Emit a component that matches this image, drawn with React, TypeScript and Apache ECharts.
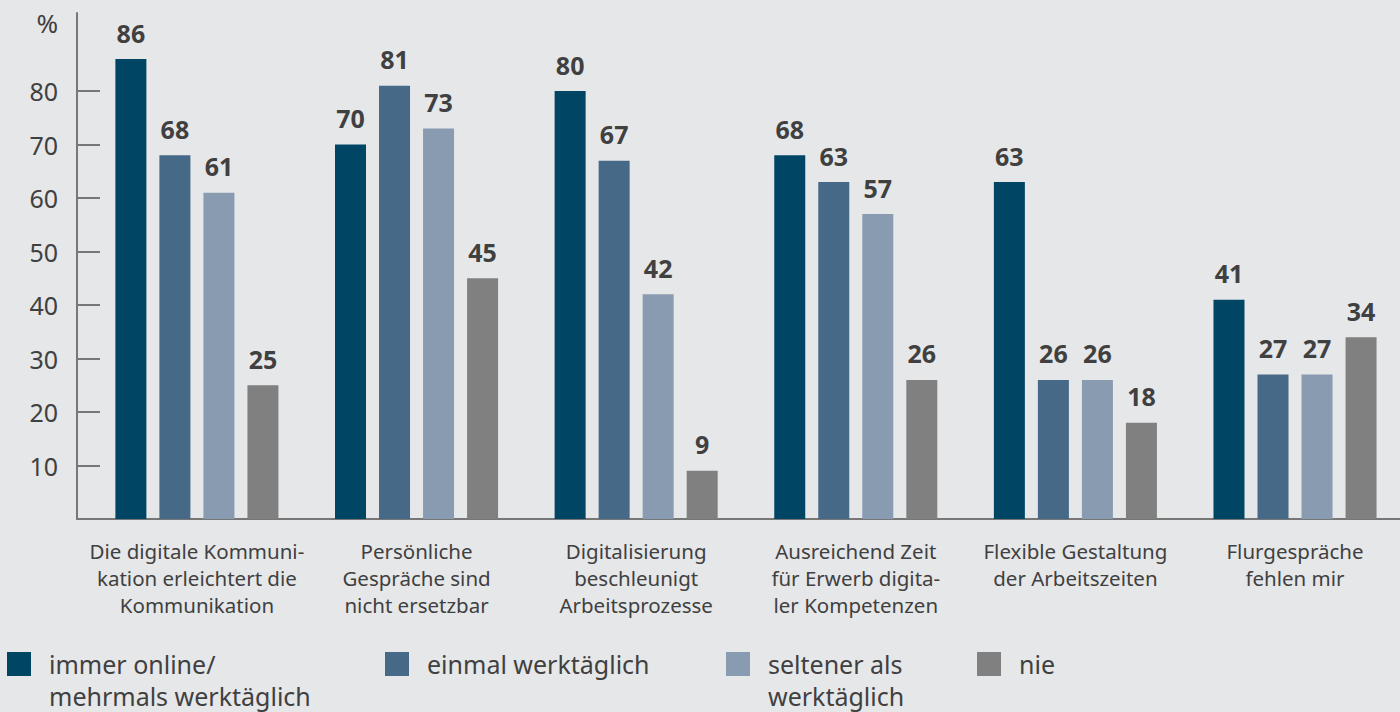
import React, { useEffect, useRef } from "react";
import * as echarts from "echarts";

const categories = [
  "Die digitale Kommuni-\nkation erleichtert die\nKommunikation",
  "Persönliche\nGespräche sind\nnicht ersetzbar",
  "Digitalisierung\nbeschleunigt\nArbeitsprozesse",
  "Ausreichend Zeit\nfür Erwerb digita-\nler Kompetenzen",
  "Flexible Gestaltung\nder Arbeitszeiten",
  "Flurgespräche\nfehlen mir",
];
const seriesNames = [
  "immer online/\nmehrmals werktäglich",
  "einmal werktäglich",
  "seltener als\nwerktäglich",
  "nie",
];
const immerOnline = [86, 70, 80, 68, 63, 41];
const einmal = [68, 81, 67, 63, 26, 27];
const seltener = [61, 73, 42, 57, 26, 27];
const nie = [25, 45, 9, 26, 18, 34];
const yTicks = [10, 20, 30, 40, 50, 60, 70, 80];

const colors = ["#004664", "#466987", "#899bb1", "#808080"];
const textColor = "#404040";
const FONT = "'Noto Sans', 'Open Sans', sans-serif";
const LH = 32;

export default function App() {
  const ref = useRef<HTMLDivElement>(null);
  useEffect(() => {
    document.body.style.margin = "0";
    const chart = echarts.init(ref.current!, null, { renderer: "svg" });
    const allData = [immerOnline, einmal, seltener, nie];
    const legendLefts = [7, 385, 726, 977];
    const option: any = {
      animation: false,
      backgroundColor: "#e6e7e9",
      textStyle: { fontFamily: FONT },
      grid: { left: 77, right: 0, top: 13, bottom: 193, containLabel: false },
      xAxis: {
        type: "value",
        min: -0.546,
        max: 5.478,
        splitLine: { show: false },
        axisTick: { show: false },
        axisLine: { show: true, onZero: false, lineStyle: { color: "#777777", width: 2 } },
        axisLabel: {
          customValues: categories.map((_, i) => i),
          formatter: (v: number) => categories[Math.round(v)] ?? "",
          color: textColor,
          fontSize: 20.5,
          lineHeight: 27,
          margin: 18,
          fontFamily: FONT,
        },
      },
      yAxis: {
        type: "value",
        min: 0,
        max: 94.6,
        interval: 10,
        name: "%",
        nameLocation: "end",
        nameGap: 0,
        nameTextStyle: {
          color: textColor,
          fontSize: 26,
          align: "right",
          verticalAlign: "top",
          padding: [-3, 19, 0, 0],
          fontFamily: FONT,
        },
        splitLine: { show: false },
        axisLine: { show: true, onZero: false, lineStyle: { color: "#777777", width: 2 } },
        axisTick: {
          show: true,
          inside: true,
          length: 23,
          customValues: yTicks,
          lineStyle: { color: "#777777", width: 2 },
        },
        axisLabel: {
          customValues: yTicks,
          color: textColor,
          fontSize: 25,
          margin: 19,
          fontFamily: FONT,
        },
      },
      legend: seriesNames.map((name, i) => {
        const twoLine = name.includes("\n");
        return {
          data: [name],
          left: legendLefts[i],
          top: 648,
          padding: 0,
          itemWidth: 24,
          itemHeight: twoLine ? 24 + LH : 24,
          icon: twoLine ? `path://M0,0H24V24H0Z M0,${24 + LH}H0.01` : "rect",
          selectedMode: false,
          textStyle: {
            color: textColor,
            fontSize: 25,
            lineHeight: LH,
            fontFamily: FONT,
            padding: [0, 0, 0, 13],
          },
        };
      }),
      series: allData.map((vals, si) => ({
        name: seriesNames[si],
        type: "bar",
        barWidth: 31,
        barGap: "42%",
        itemStyle: { color: colors[si] },
        label: {
          show: true,
          position: "top",
          distance: 14,
          color: textColor,
          fontWeight: "bold",
          fontSize: 25,
          fontFamily: FONT,
        },
        data: vals.map((v, ci) => [ci, v]),
      })),
    };
    chart.setOption(option);
    return () => chart.dispose();
  }, []);
  return (
    <div
      ref={ref}
      style={{ position: "fixed", left: 0, top: 0, width: 1400, height: 712 }}
    />
  );
}
